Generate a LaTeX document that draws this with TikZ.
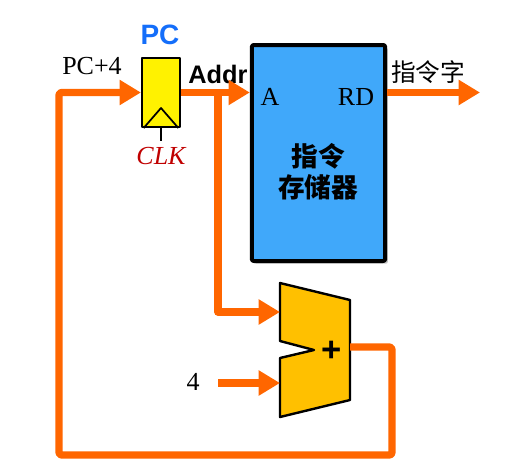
\documentclass[tikz,border=0pt]{standalone}
\usepackage{fontspec}
\setmainfont{Liberation Serif}
\setsansfont{Liberation Sans}
\newfontfamily\cjk{Noto Sans CJK SC}
\usetikzlibrary{arrows.meta,shadows}
\definecolor{wireorange}{RGB}{255,102,0}
\definecolor{memblue}{RGB}{64,168,250}
\definecolor{addgold}{RGB}{255,192,0}
\definecolor{clkred}{RGB}{192,0,0}
\definecolor{pcblue}{RGB}{20,110,250}

\begin{document}
\begin{tikzpicture}[x=0.75pt,y=-0.75pt,line join=round,
    >={Triangle[length=16pt,width=18pt]},
    wire/.style={draw=wireorange,line width=5.5pt},
    pcreg/.style={draw=black,line width=1.6pt,fill=yellow,minimum width=28.5pt,minimum height=51.75pt,inner sep=0pt},
    membox/.style={draw=black,line width=3pt,fill=memblue,rounded corners=1.5pt,minimum width=100pt,minimum height=162pt,inner sep=0pt,
        drop shadow={shadow xshift=2pt,shadow yshift=-2pt,fill=black!45}},
    serif/.style={font=\fontsize{19.5}{22}\selectfont},
    sansbold/.style={font=\fontsize{19}{22}\selectfont\sffamily\bfseries}]
    \useasboundingbox (0,0) rectangle (523,468);
    % PC register
    \node[pcreg] (pc) at (161,92.5) {};
    \draw[line width=1.3pt] ([xshift=2pt]pc.south west) -- (161,108) -- ([xshift=-2pt]pc.south east);
    \coordinate (clk) at (161,141);
    \draw[line width=1.3pt] (pc.south) -- (clk);
    \node[font=\fontsize{19.5}{22}\selectfont\itshape,text=clkred] (clklabel) at (161,156) {CLK};
    \node[font=\fontsize{21}{24}\selectfont\sffamily\bfseries,text=pcblue] (pclabel) at (160,35) {PC};
    % instruction memory
    \node[membox] (mem) at (318.5,153) {};
    \node[serif] (alabel) at (270,97) {A};
    \node[serif] (rdlabel) at (356,97) {RD};
    \node[font=\fontsize{20}{23}\selectfont\cjk\bfseries,align=center] (memlabel) at (318,172) {指令\\存储器};
    % adder
    \draw[line width=1.8pt,fill=addgold] (280,283) -- (350,300) -- (350,400) -- (280,417)
        -- (280,358) -- (314,350) -- (280,341) -- cycle;
    \node[font=\fontsize{26}{26}\selectfont\sffamily\bfseries] (plus) at (332,351) {+};
    \coordinate (addina) at (280,312);
    \coordinate (addinb) at (280,383);
    \coordinate (addout) at (350,347);
    % labels
    \node[serif] (pcfour) at (92,66) {PC+4};
    \node[sansbold] (addr) at (218,74) {Addr};
    \node[font=\fontsize{18.5}{20}\selectfont\cjk] (insword) at (428,72) {指令字};
    \node[serif] (four) at (193,382) {4};
    % wires
    \coordinate (branch) at (218,92.5);
    \coordinate (fourout) at (218,383);
    \coordinate (rdend) at (480,92.5);
    \draw[wire,->] (pc.east) -- (mem.west |- pc.east);
    \draw[wire,->] (mem.east |- pc.east) -- (rdend);
    \draw[wire,->] (branch) |- (addina);
    \draw[wire,->] (fourout) -- (addinb);
    \draw[wire,->,rounded corners=2pt] (addout) -- (392,347) -- (392,455) -- (59,455) -- (59,92.5) -- (pc.west);
\end{tikzpicture}
\end{document}
